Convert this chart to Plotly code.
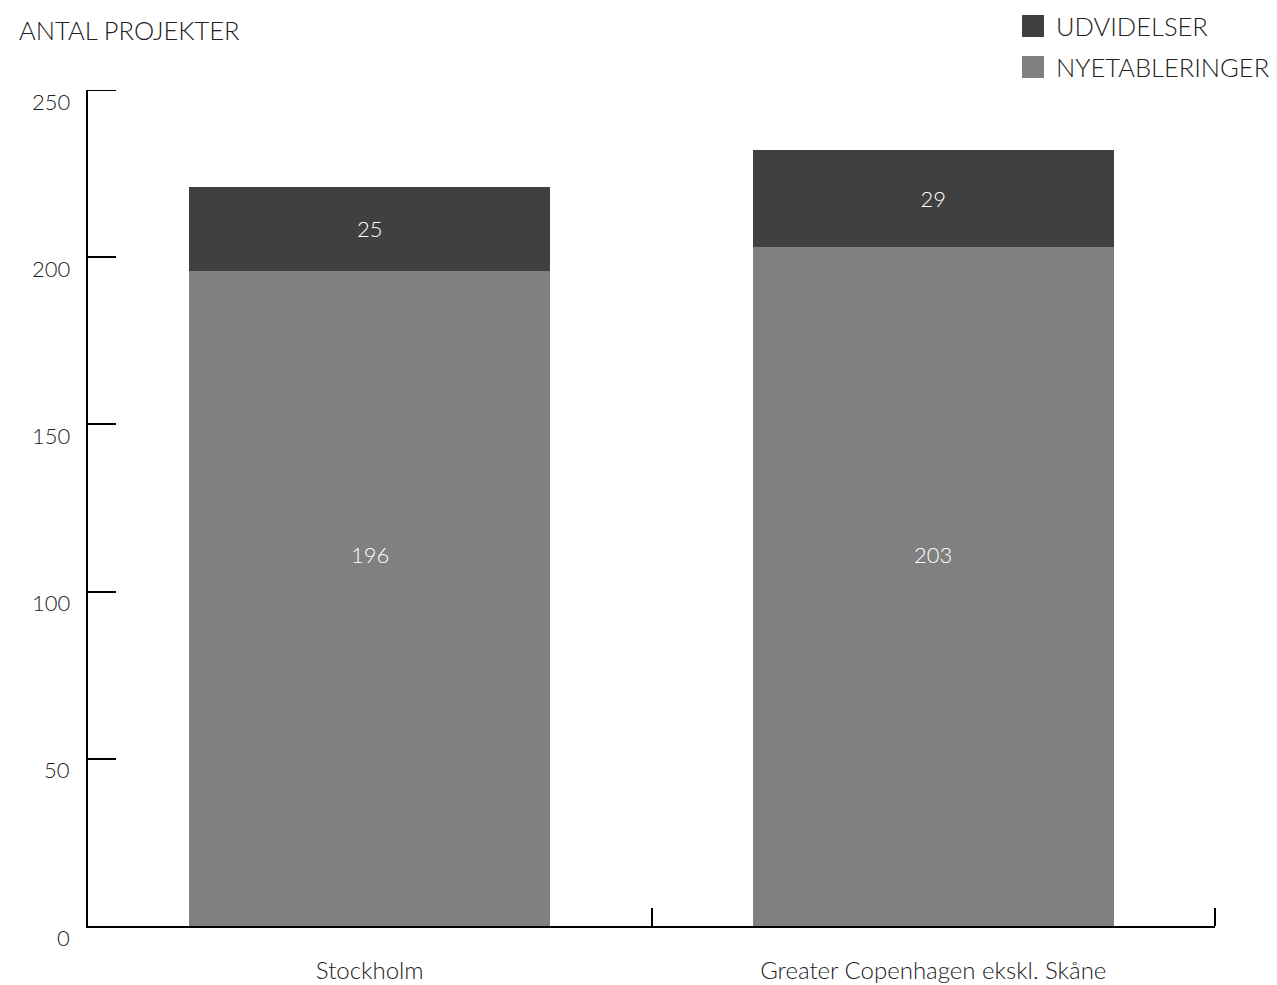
import plotly.graph_objects as go

categories = ["Stockholm", "Greater Copenhagen ekskl. Skåne"]
nyetableringer = [196, 203]
udvidelser = [25, 29]
y_ticks = [0, 50, 100, 150, 200, 250]
series_names = ["NYETABLERINGER", "UDVIDELSER"]
y_title = "ANTAL PROJEKTER"

FONT = "Lato"
W = 300
LIGHT = "#808080"
DARK = "#404040"
TXT = "#222"
LOWER_LABEL_Y = 111

def f(size, color=TXT):
    return dict(family=FONT, size=size, color=color, weight=W)

fig = go.Figure()
fig.add_trace(go.Bar(
    x=categories, y=nyetableringer, name=series_names[0],
    marker=dict(color=LIGHT, line=dict(width=0)),
    textposition="none",
))
fig.add_trace(go.Bar(
    x=categories, y=udvidelser, name=series_names[1],
    marker=dict(color=DARK, line=dict(width=0)),
    text=[str(v) for v in udvidelser], textposition="inside",
    insidetextanchor="middle",
    textfont=f(22, "white"),
))

annotations = []
for c, v in zip(categories, nyetableringer):
    annotations.append(dict(x=c, y=LOWER_LABEL_Y, xref="x", yref="y", text=str(v),
                            showarrow=False, font=f(22, "white")))
for t in y_ticks:
    annotations.append(dict(x=0, y=t, xref="paper", yref="y", text=str(t),
                            xanchor="right", xshift=-16, yshift=-11, showarrow=False,
                            font=f(22)))
annotations.append(dict(x=(17 - 88) / 1127, y=(926 - 30) / 836, xref="paper", yref="paper",
                        text=y_title, xanchor="left", yanchor="middle", showarrow=False,
                        font=f(25.5)))

shapes = []
leg = [(series_names[1], DARK, 26), (series_names[0], LIGHT, 67)]
for name, col, cy in leg:
    shapes.append(dict(type="rect", xref="paper", yref="paper",
                       x0=(1022 - 88) / 1127, x1=(1044 - 88) / 1127,
                       y0=(926 - (cy + 11)) / 836, y1=(926 - (cy - 11)) / 836,
                       fillcolor=col, line=dict(width=0)))
    annotations.append(dict(x=(1054 - 88) / 1127, y=(926 - cy) / 836, xref="paper", yref="paper",
                            text=name, xanchor="left", yanchor="middle", showarrow=False,
                            font=f(25.5)))
# edge ticks that plotly omits
shapes.append(dict(type="line", xref="paper", yref="y", x0=0, x1=28 / 1127, y0=250, y1=250,
                   line=dict(color="black", width=2)))
shapes.append(dict(type="line", xref="paper", yref="paper", x0=1, x1=1, y0=0, y1=18 / 836,
                   line=dict(color="black", width=2)))

fig.update_layout(
    barmode="stack", bargap=0.36,
    width=1277, height=985,
    margin=dict(l=88, r=62, t=90, b=59, autoexpand=False),
    plot_bgcolor="white", paper_bgcolor="white",
    showlegend=False,
    font=f(22),
    annotations=annotations, shapes=shapes,
    xaxis=dict(type="category", showline=True, linecolor="black", linewidth=2,
               ticks="inside", ticklen=18, tickwidth=2, tickcolor="black",
               tickson="boundaries", showgrid=False, zeroline=False,
               ticklabelstandoff=22, tickfont=f(24)),
    yaxis=dict(range=[0, 250], showline=True, linecolor="black", linewidth=2,
               ticks="inside", ticklen=28, tickwidth=2, tickcolor="black",
               tickvals=y_ticks, showticklabels=False, showgrid=False, zeroline=False),
)
fig.write_html("out.html", config={"displayModeBar": False},
               post_script="document.body.style.margin='0';document.body.style.overflow='hidden';")
